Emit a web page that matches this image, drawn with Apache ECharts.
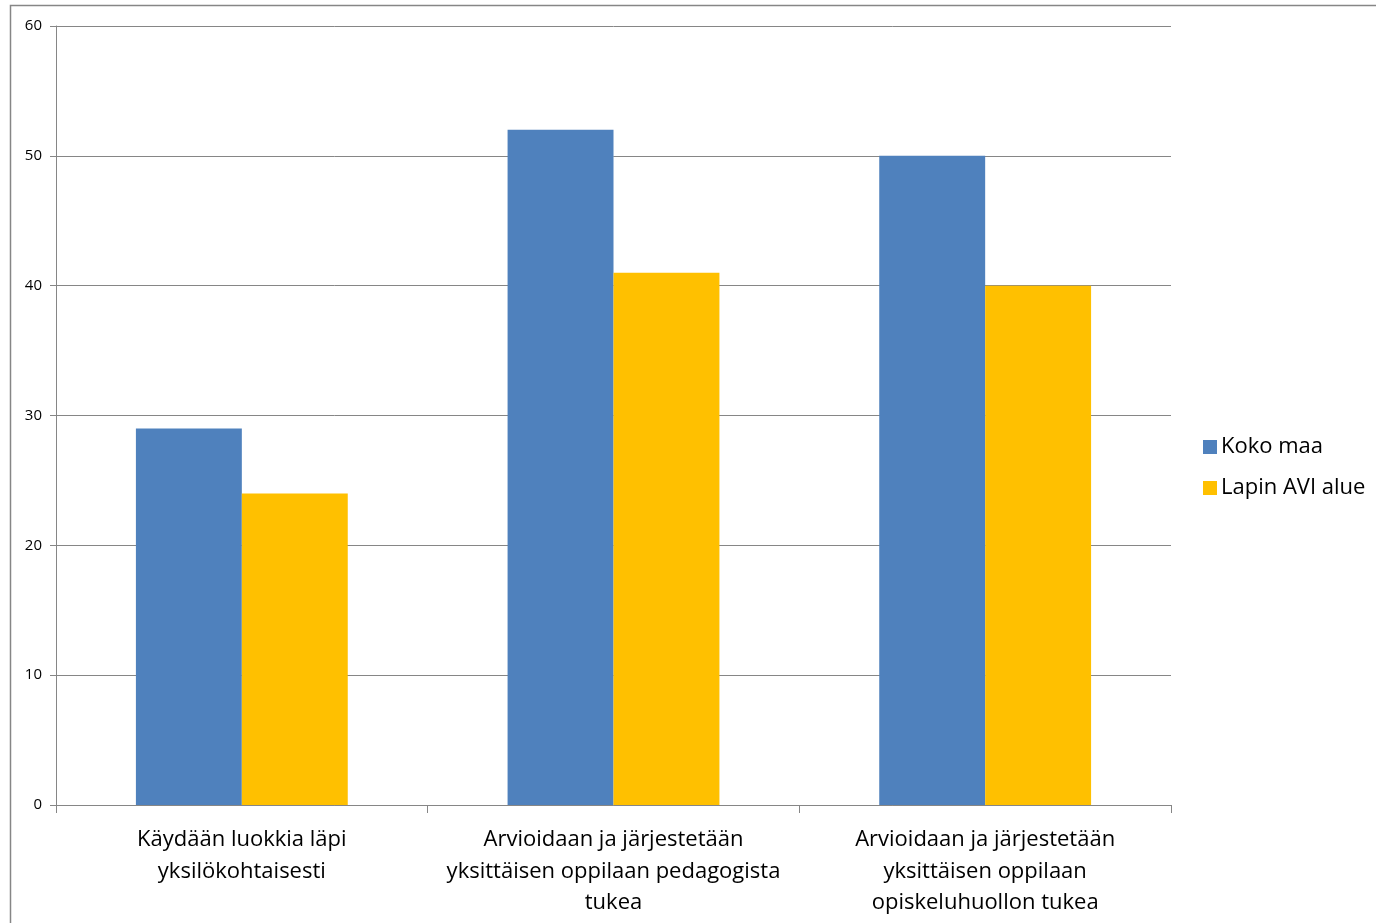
<!DOCTYPE html>
<html><head><meta charset="utf-8">
<script src="https://cdn.jsdelivr.net/npm/echarts@6/dist/echarts.min.js"></script>
<style>html,body{margin:0;padding:0;background:#fff;}#c{width:1376px;height:923px;}</style>
</head><body><div id="c"></div>
<script>
const categories = [
  "Käydään luokkia läpi\nyksilökohtaisesti",
  "Arvioidaan ja järjestetään\nyksittäisen oppilaan pedagogista\ntukea",
  "Arvioidaan ja järjestetään\nyksittäisen oppilaan\nopiskeluhuollon tukea"
];
const seriesNames = ["Koko maa", "Lapin AVI alue"];
const kokoMaa = [29, 52, 50];
const lapinAvi = [24, 41, 40];
const yTicks = {min: 0, max: 60, interval: 10};

const FONT = "Open Sans";
const chart = echarts.init(document.getElementById('c'), null, {renderer: 'canvas'});
chart.setOption({
  animation: false,
  textStyle: {fontFamily: FONT},
  graphic: [{
    type: 'rect', silent: true, z: -1,
    shape: {x: 10.5, y: 5.5, width: 1500, height: 1000},
    style: {fill: 'none', stroke: '#868686', lineWidth: 1.5}
  }],
  legend: {
    orient: 'vertical', left: 1198, top: 431,
    itemWidth: 14, itemHeight: 14, itemGap: 19,
    icon: 'rect',
    textStyle: {fontSize: 22, color: '#000', fontFamily: FONT, padding: [0,0,0,-1]},
    data: seriesNames
  },
  grid: {left: 56, right: 205, top: 26, bottom: 118, containLabel: false},
  xAxis: {
    type: 'category', data: categories,
    axisLine: {lineStyle: {color: '#868686', width: 1}},
    axisTick: {show: true, length: 8, lineStyle: {color: '#868686'}},
    axisLabel: {fontSize: 22, color: '#000', lineHeight: 31.5, margin: 19, interval: 0, fontFamily: FONT}
  },
  yAxis: {
    type: 'value', min: yTicks.min, max: yTicks.max, interval: yTicks.interval,
    axisLine: {show: true, lineStyle: {color: '#868686', width: 1}},
    axisTick: {show: true, length: 6, lineStyle: {color: '#868686'}},
    splitLine: {show: true, lineStyle: {color: '#868686', width: 1}},
    axisLabel: {fontSize: 15, color: '#000', margin: 14, fontFamily: FONT}
  },
  series: [
    {name: seriesNames[0], type: 'bar', data: kokoMaa, barWidth: '28.5%', barGap: '0%',
     itemStyle: {color: '#4F81BD'}},
    {name: seriesNames[1], type: 'bar', data: lapinAvi, barWidth: '28.5%', barGap: '0%',
     itemStyle: {color: '#FFC000'}}
  ]
});
</script></body></html>
